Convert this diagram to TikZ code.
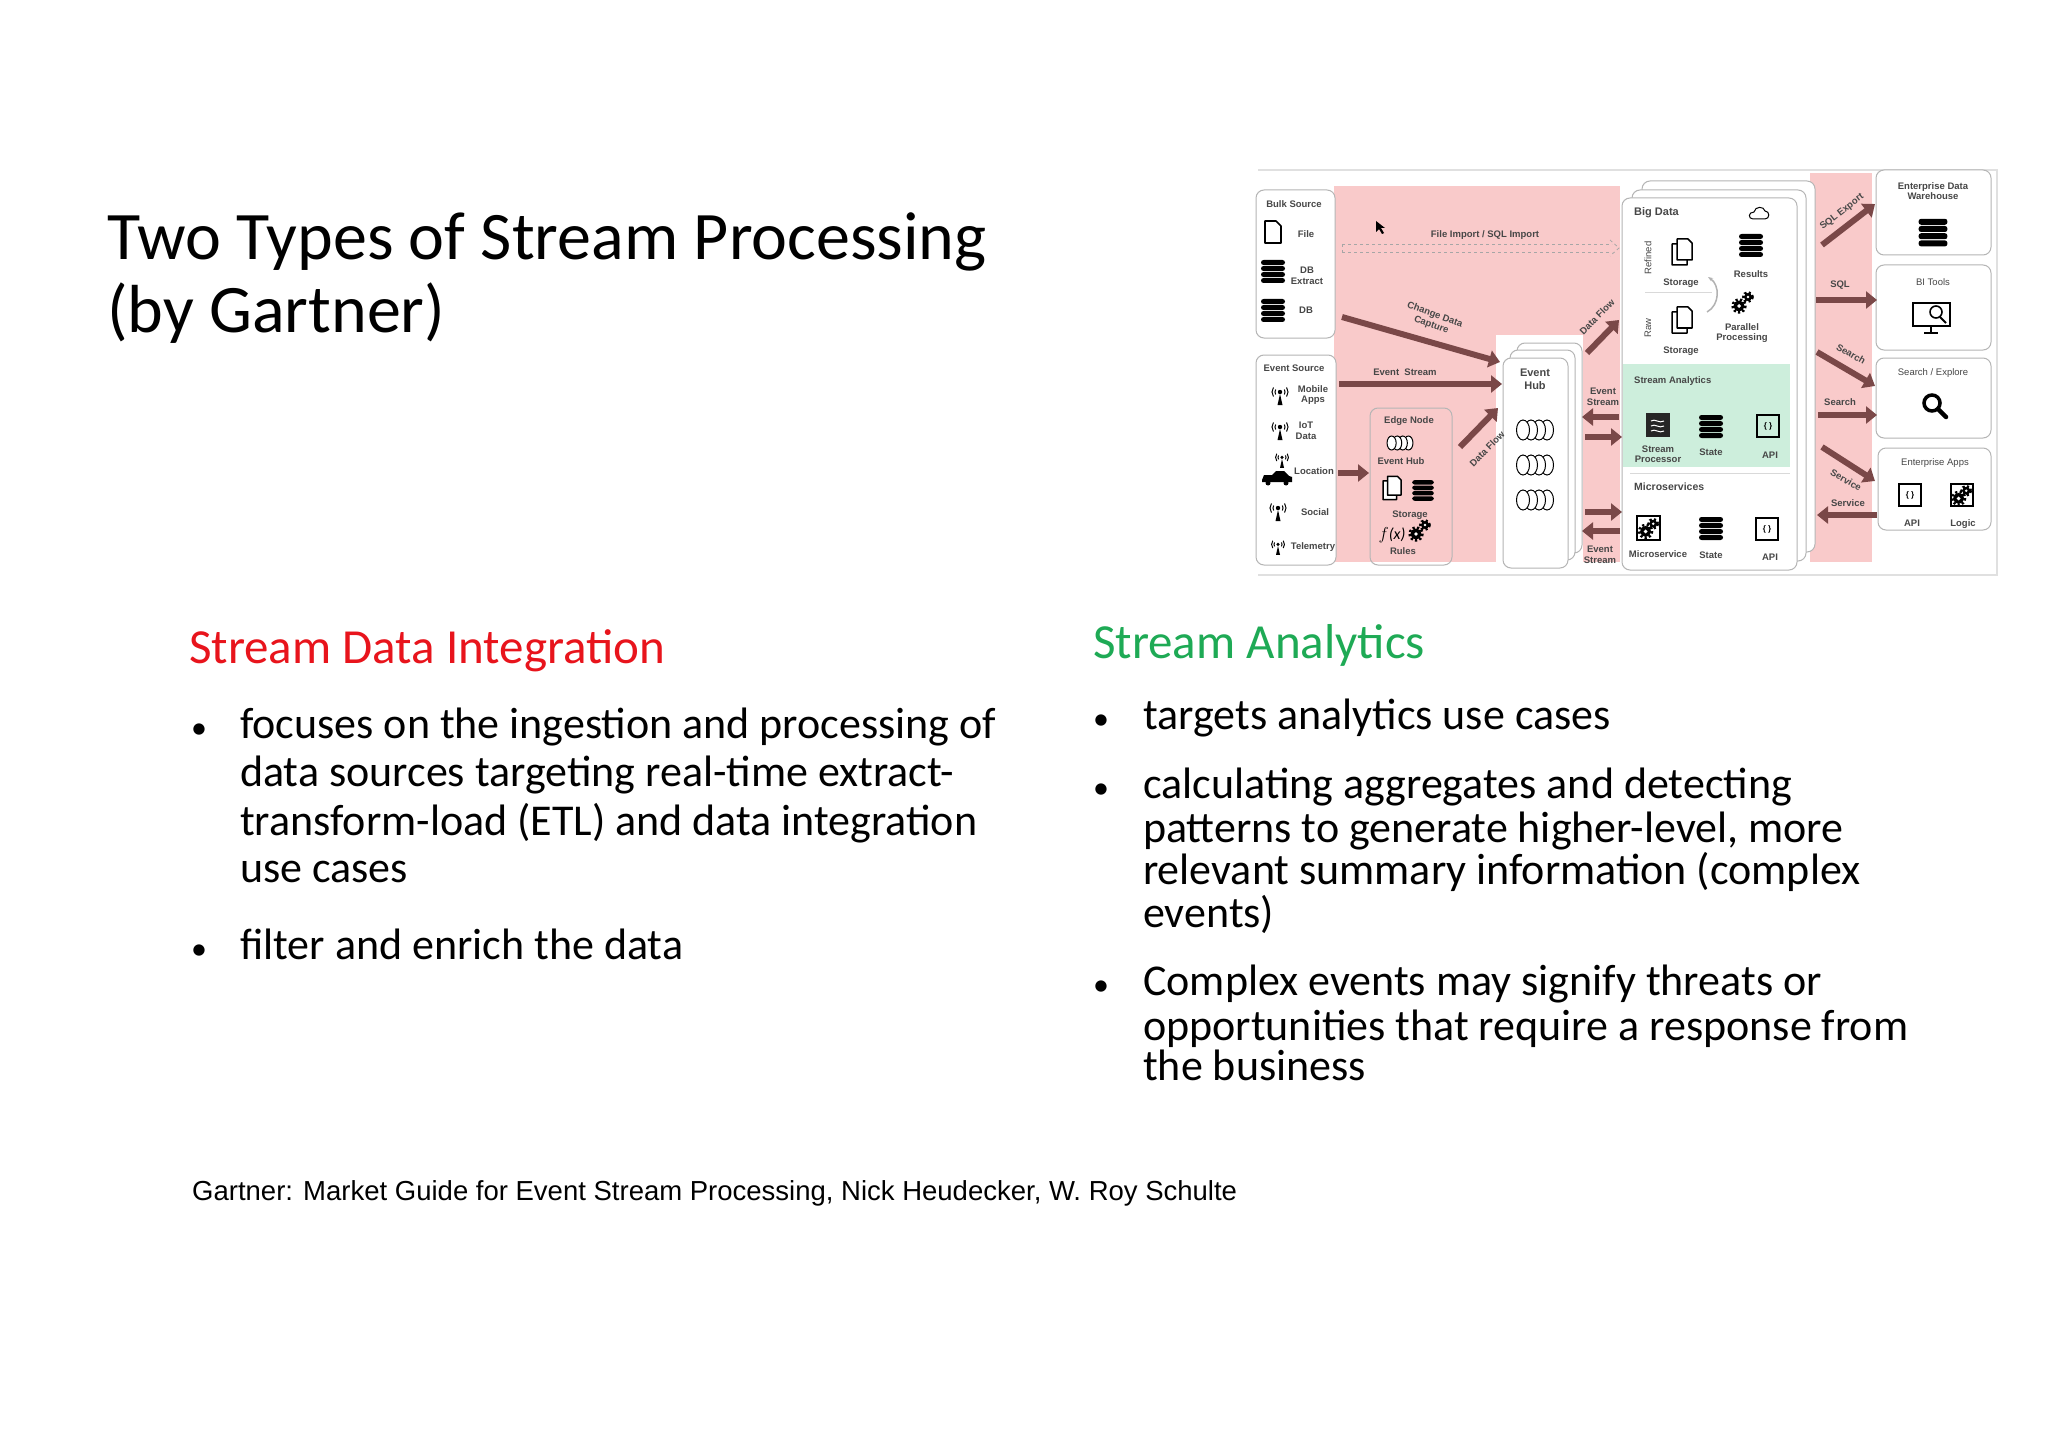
\documentclass[tikz,border=0pt]{standalone}
\usepackage{fontspec}
\setmainfont{Carlito}
\setsansfont{Liberation Sans}
\usetikzlibrary{arrows.meta,shapes.geometric}
\definecolor{pinkbg}{HTML}{F9CACA}
\definecolor{greenbg}{HTML}{CDEEDC}
\definecolor{arr}{HTML}{7A4848}
\definecolor{txt}{HTML}{474747}
\definecolor{boxc}{HTML}{B5B5B5}
\definecolor{sred}{HTML}{E8141C}
\definecolor{sgreen}{HTML}{1EAA55}
\tikzset{
 lbl/.style={font=\sffamily\bfseries\fontsize{9.5}{10.5}\selectfont, text=txt, align=center, inner sep=0},
 lbls/.style={font=\sffamily\fontsize{9.5}{10.5}\selectfont, text=txt, align=center, inner sep=0},
 rbox/.style={draw=boxc, line width=1, rounded corners=8, fill=white},
 fat/.style={draw=arr, line width=6, -{Triangle[length=11,width=17]}},
 body/.style={font=\fontsize{44}{49}\selectfont, anchor=base west, inner sep=0},
 bul/.style={font=\fontsize{32}{40}\selectfont, anchor=base, inner sep=0},
 db/.pic={\foreach \i in {0,1,2,3}{\fill[black,rounded corners=2.5] (-12,-11+\i*6) rectangle (12,-6+\i*6);}},
 filei/.pic={\draw[line width=1.6,line join=round] (-8,-11)--(3,-11)--(8,-6)--(8,11)--(-8,11)--cycle;},
 docs/.pic={\draw[line width=1.5,line join=round,fill=white] (-10,-8)--(1,-8)--(5,-4)--(5,13)--(-10,13)--cycle;
   \draw[line width=1.5,line join=round,fill=white] (-5,-13)--(6,-13)--(10,-9)--(10,8)--(-5,8)--cycle;},
 ant/.pic={\fill (-2.5,11)--(0,0)--(2.5,11)--cycle; \fill (0,-2) circle(2.2);
   \draw[line width=1] (0,-2) ++(150:5) arc(150:210:5); \draw[line width=1] (0,-2) ++(-30:5) arc(-30:30:5);
   \draw[line width=1] (0,-2) ++(145:8) arc(145:215:8); \draw[line width=1] (0,-2) ++(-35:8) arc(-35:35:8);},
 gear/.pic={\fill circle(5); \draw[line width=2.6,dash pattern=on 2.2 off 2.2] circle(5.8); \fill[white] circle(1.8);},
 gears/.pic={\pic[scale=1.1] at (-4,4) {gear}; \pic[scale=0.8] at (5,-5) {gear};},
 rings/.pic={\foreach \i in {3,2,1,0}{\draw[line width=1,fill=white] (-12+\i*8,0) ellipse (6.5 and 10);}},
 api/.pic={\draw[line width=1.5] (-11,-11) rectangle (11,11); \node[font=\sffamily\bfseries\fontsize{8}{8}\selectfont,inner sep=0] at (0,0) {\{ \}};},
}
\begin{document}
\begin{tikzpicture}[x=1pt,y=-1pt]
\useasboundingbox (0,0) rectangle (2048,1447);
\fill[white] (0,0) rectangle (2048,1447);
% ---- title and text
\node[font=\fontsize{68}{74}\selectfont, anchor=base west, inner sep=0, align=left] (title) at (107,260) {Two Types of Stream Processing};
\node[font=\fontsize{68}{74}\selectfont, anchor=base west, inner sep=0] (title2) at (107,333) {(by Gartner)};
\node[font=\fontsize{49}{56}\selectfont, text=sred, anchor=base west, inner sep=0] (h1) at (189,663) {Stream Data Integration};
\node[font=\fontsize{49}{56}\selectfont, text=sgreen, anchor=base west, inner sep=0] (h2) at (1093,658) {Stream Analytics};
\node[bul] (b1) at (199,738) {•};
\node[body] (t1a) at (240,738) {focuses on the ingestion and processing of};
\node[body] (t1b) at (240,786) {data sources targeting real-time extract-};
\node[body] (t1c) at (240,835) {transform-load (ETL) and data integration};
\node[body] (t1d) at (240,882) {use cases};
\node[bul] (b2) at (199,959) {•};
\node[body] (t2) at (240,959) {filter and enrich the data};
\node[bul] (b3) at (1101,729) {•};
\node[body] (r1) at (1143,729) {targets analytics use cases};
\node[bul] (b4) at (1101,798) {•};
\node[body] (r2a) at (1143,798) {calculating aggregates and detecting};
\node[body] (r2b) at (1143,842) {patterns to generate higher-level, more};
\node[body] (r2c) at (1143,884) {relevant summary information (complex};
\node[body] (r2d) at (1143,927) {events)};
\node[bul] (b5) at (1101,995) {•};
\node[body] (r3a) at (1143,995) {Complex events may signify threats or};
\node[body] (r3b) at (1143,1040) {opportunities that require a response from};
\node[body] (r3c) at (1143,1080) {the business};
\node[font=\sffamily\fontsize{27.5}{30}\selectfont, anchor=base west, inner sep=0] (foot) at (192,1200) {Gartner: Market Guide for Event Stream Processing, Nick Heudecker, W. Roy Schulte};
% ---- diagram frame
\fill[white] (1258,170) rectangle (1997,575);
\draw[black!12, line width=1.5] (1258,170) -- (1997,170) -- (1997,575) -- (1258,575);
% pink regions
\fill[pinkbg] (1334,186) rectangle (1620,562);
\fill[white] (1496,335) rectangle (1583,572);
\fill[pinkbg] (1583,335) rectangle (1620,562);
\fill[pinkbg] (1810,173) rectangle (1872,562);
% bulk / event source
\draw[rbox] (1256,190) rectangle (1335,338);
\draw[rbox] (1256,355) rectangle (1336,565);
\node[lbl] (bulk) at (1294,204) {Bulk Source};
\pic at (1273,232) {filei}; \node[lbl] (file) at (1306,234) {File};
\pic at (1273,271) {db}; \node[lbl] (dbx) at (1307,276) {DB\\Extract};
\pic at (1273,310) {db}; \node[lbl] (dbb) at (1306,310) {DB};
\node[lbl] (evsrc) at (1294,368) {Event Source};
\pic at (1280,394) {ant}; \node[lbl] (mob) at (1313,395) {Mobile\\Apps};
\pic at (1280,429) {ant}; \node[lbl] (iot) at (1306,431) {IoT\\Data};
\pic[scale=0.8] at (1282,459) {ant};
\fill (1262,480) -- (1264,475) -- (1272,475) -- (1276,471) -- (1284,471) -- (1289,476) -- (1292,477) -- (1292,482) -- (1262,482) -- cycle;
\fill (1268,483) circle(2.5); \fill (1286,483) circle(2.5);
\node[lbl] (loc) at (1314,471) {Location};
\pic at (1278,510) {ant}; \node[lbl] (soc) at (1315,512) {Social};
\pic[scale=0.8] at (1278,546) {ant}; \node[lbl] (tel) at (1313,547) {Telemetry};
% edge node
\draw[rbox, fill=none] (1370,408) rectangle (1452,565);
\node[lbl] (edge) at (1409,421) {Edge Node};
\pic[scale=0.7] at (1400,443) {rings};
\node[lbl] (ehs) at (1401,461) {Event Hub};
\pic[scale=0.9] at (1392,488) {docs}; \pic[scale=0.9] at (1423,490) {db};
\node[lbl] (stor0) at (1410,515) {Storage};
\node[font=\itshape\fontsize{16}{16}\selectfont, inner sep=0] (fx) at (1392,535) {$f$(x)};
\pic at (1420,530) {gears};
\node[lbl] (rules) at (1403,551) {Rules};
% event hub
\draw[rbox] (1517,343) rectangle (1582,553);
\draw[rbox] (1510,350) rectangle (1575,560);
\draw[rbox] (1503,358) rectangle (1568,568);
\node[lbl, font=\sffamily\bfseries\fontsize{11}{13}\selectfont] (ehub) at (1535,379) {Event\\Hub};
\pic at (1535,430) {rings}; \pic at (1535,465) {rings}; \pic at (1535,500) {rings};
% big data stack
\draw[rbox] (1642,181) rectangle (1815,552);
\draw[rbox] (1632,190) rectangle (1806,561);
\draw[rbox] (1622,198) rectangle (1797,570);
\fill[greenbg] (1623,364) rectangle (1790,467);
\draw[black!15] (1645,292) -- (1712,292);
\draw[black!15] (1630,473) -- (1790,473);
\node[lbl, anchor=west, font=\sffamily\bfseries\fontsize{11}{13}\selectfont] (bigd) at (1634,213) {Big Data};
\draw[line width=1] (1753,219) .. controls (1748,219) and (1748,212) .. (1754,212) .. controls (1755,206) and (1764,206) .. (1765,211) .. controls (1770,211) and (1770,219) .. (1765,219) -- cycle;
\node[lbls, rotate=90] (ref) at (1648,258) {Refined};
\node[lbls, rotate=90] (raw) at (1648,328) {Raw};
\pic at (1682,252) {docs}; \node[lbl] (st1) at (1681,283) {Storage};
\pic at (1682,320) {docs}; \node[lbl] (st2) at (1681,351) {Storage};
\pic at (1751,245) {db}; \node[lbl] (res) at (1751,274) {Results};
\pic at (1743,302) {gears}; \node[lbl] (par) at (1742,333) {Parallel\\Processing};
\draw[black!30, line width=1.5, -{Stealth[length=5]}] (1707,312) .. controls (1720,305) and (1720,285) .. (1708,277);
\node[lbl, anchor=west, text=txt] (sa) at (1634,381) {Stream Analytics};
\fill[black!85] (1646,413) rectangle (1670,437);
\draw[white, line width=1] (1651,421) .. controls (1655,418) and (1659,424) .. (1664,421) (1651,426) .. controls (1655,423) and (1659,429) .. (1664,426) (1651,431) .. controls (1655,428) and (1659,434) .. (1664,431);
\pic at (1711,426) {db};
\pic at (1768,426) {api};
\node[lbl] (spr) at (1658,454) {Stream\\Processor};
\node[lbl] (sst) at (1711,452) {State};
\node[lbl] (sapi) at (1770,455) {API};
\node[lbl, anchor=west, font=\sffamily\bfseries\fontsize{10.5}{12}\selectfont] (ms) at (1634,487) {Microservices};
\draw[line width=1.5] (1637,516) rectangle (1660,540); \pic[scale=0.85] at (1649,528) {gears};
\pic at (1711,528) {db};
\pic at (1767,529) {api};
\node[lbl] (mss) at (1658,554) {Microservice};
\node[lbl] (mst) at (1711,555) {State};
\node[lbl] (mapi) at (1770,557) {API};
% right boxes
\draw[rbox] (1876,170) rectangle (1991,255);
\draw[rbox] (1876,265) rectangle (1991,350);
\draw[rbox] (1876,358) rectangle (1991,438);
\draw[rbox] (1878,448) rectangle (1991,530);
\node[lbl] (edw) at (1933,191) {Enterprise Data\\Warehouse};
\pic[scale=1.2] at (1933,232) {db};
\node[lbls] (bi) at (1933,282) {BI Tools};
\draw[line width=1.6] (1913,303) rectangle (1950,326); \draw[line width=1.6] (1931,326) -- (1931,332) (1924,333) -- (1938,333);
\draw[line width=1.6] (1936,312) circle(6); \draw[line width=2] (1940,317) -- (1946,323);
\node[lbls] (se) at (1933,373) {Search / Explore};
\draw[line width=3.5] (1932,403) circle(8); \draw[line width=4.5, line cap=round] (1938,409) -- (1946,417);
\node[lbls] (ea) at (1935,463) {Enterprise Apps};
\pic at (1910,495) {api};
\draw[line width=1.5] (1951,484) rectangle (1973,506); \pic[scale=0.85] at (1962,495) {gears};
\node[lbl] (eapi) at (1912,523) {API};
\node[lbl] (elog) at (1963,524) {Logic};
% ---- arrows, left part
\draw[black!35, dashed, line width=0.8] (1342,244) -- (1612,244) (1342,252) -- (1612,252) (1342,244) -- (1342,252);
\draw[black!35, dashed, line width=0.8] (1610,240) -- (1619,248) -- (1610,256);
\node[lbl] (fil) at (1485,235) {File Import / SQL Import};
\coordinate (cdc1) at (1342,317); \coordinate (cdc2) at (1500,362);
\draw[fat] (cdc1) -- (cdc2);
\node[lbl, rotate=-20] (cdcl) at (1433,320) {Change Data\\Capture};
\coordinate (es1) at (1339,384); \coordinate (es2) at (1502,384);
\draw[fat] (es1) -- (es2);
\node[lbl] (esl) at (1405,372) {Event~~Stream};
\coordinate (lo1) at (1338,473); \coordinate (lo2) at (1369,473);
\draw[fat] (lo1) -- (lo2);
\coordinate (df1) at (1460,447); \coordinate (df2) at (1498,408);
\draw[fat] (df1) -- (df2);
\node[lbl, rotate=45] (dfl) at (1487,449) {Data Flow};
\coordinate (du1) at (1587,353); \coordinate (du2) at (1619,320);
\draw[fat] (du1) -- (du2);
\node[lbl, rotate=45] (dul) at (1597,317) {Data Flow};
\coordinate (e1a) at (1619,417); \coordinate (e1b) at (1582,417);
\draw[fat] (e1a) -- (e1b);
\coordinate (e2a) at (1585,437); \coordinate (e2b) at (1622,437);
\draw[fat] (e2a) -- (e2b);
\node[lbl] (e12) at (1603,397) {Event\\Stream};
\coordinate (e3a) at (1585,512); \coordinate (e3b) at (1622,512);
\draw[fat] (e3a) -- (e3b);
\coordinate (e4a) at (1620,531); \coordinate (e4b) at (1582,531);
\draw[fat] (e4a) -- (e4b);
\node[lbl] (e34) at (1600,555) {Event\\Stream};
% ---- arrows, right part
\coordinate (s1a) at (1822,245); \coordinate (s1b) at (1875,204);
\draw[fat] (s1a) -- (s1b);
\node[lbl, rotate=38] (s1l) at (1842,212) {SQL Export};
\coordinate (s2a) at (1816,300); \coordinate (s2b) at (1877,300);
\draw[fat] (s2a) -- (s2b);
\node[lbl] (s2l) at (1840,285) {SQL};
\coordinate (s3a) at (1817,352); \coordinate (s3b) at (1875,386);
\draw[fat] (s3a) -- (s3b);
\node[lbl, rotate=-30] (s3l) at (1851,354) {Search};
\coordinate (s4a) at (1818,415); \coordinate (s4b) at (1877,415);
\draw[fat] (s4a) -- (s4b);
\node[lbl] (s4l) at (1840,402) {Search};
\coordinate (s5a) at (1822,447); \coordinate (s5b) at (1875,481);
\draw[fat] (s5a) -- (s5b);
\node[lbl, rotate=-30] (s5l) at (1846,480) {Service};
\coordinate (s6a) at (1877,515); \coordinate (s6b) at (1817,515);
\draw[fat] (s6a) -- (s6b);
\node[lbl] (s6l) at (1848,503) {Service};
% cursor
\fill (1376,221) -- (1376,232) -- (1379,229) -- (1382,234) -- (1384,233) -- (1381,228) -- (1385,228) -- cycle;
\end{tikzpicture}
\end{document}
